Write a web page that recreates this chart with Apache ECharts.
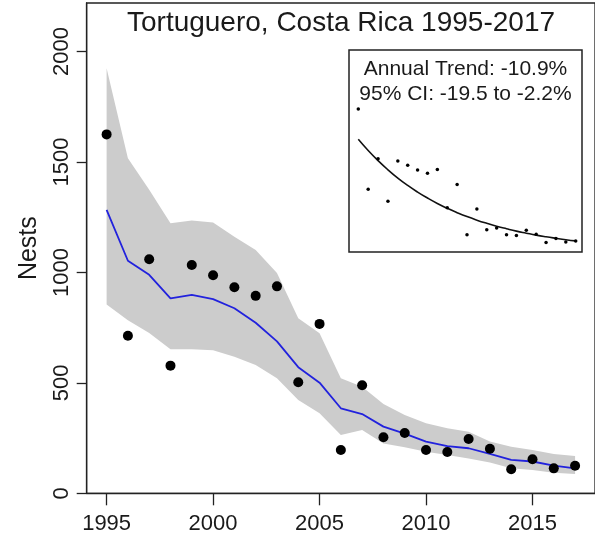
<!DOCTYPE html>
<html>
<head>
<meta charset="utf-8">
<script src="https://cdn.jsdelivr.net/npm/echarts@6/dist/echarts.min.js"></script>
<style>
  html, body { margin: 0; padding: 0; background: #fff; }
  #chart { width: 595px; height: 546px; }
</style>
</head>
<body>
<div id="chart"></div>
<script>
// ---- Data ----
const years  = [1995,1996,1997,1998,1999,2000,2001,2002,2003,2004,2005,2006,2007,2008,2009,2010,2011,2012,2013,2014,2015,2016,2017];
const nests  = [1625, 713,1060, 578,1034, 987, 933, 894, 937, 503, 767, 196, 489, 254, 273, 196, 187, 246, 202, 109, 154, 113, 125];
const median = [1283,1053, 989, 883, 898, 879, 838, 772, 688, 571, 501, 385, 359, 302, 270, 234, 214, 204, 178, 151, 144, 125, 113];
const upper  = [1925,1517,1374,1223,1235,1226,1162,1102, 997, 793, 725, 521, 483, 404, 355, 317, 294, 279, 234, 211, 196, 178, 169];
const lower  = [ 855, 784, 726, 652, 652, 648, 618, 581, 521, 423, 362, 264, 287, 226, 208, 188, 173, 158, 139, 113, 106,  93,  87];
const trend  = [1281,1153,1038, 934, 840, 756, 681, 613, 551, 496, 447, 402, 362, 326, 293, 264, 237, 214, 192, 173, 156, 140, 126];
const xTicks = [1995, 2000, 2005, 2010, 2015];
const yTicks = [0, 500, 1000, 1500, 2000];
const titleText = 'Tortuguero, Costa Rica 1995-2017';
const trendText = 'Annual Trend: -10.9%';
const ciText = '95% CI: -19.5 to -2.2%';

const FONT = '"Liberation Sans", Arial, sans-serif';
const pair = (arr) => years.map((y, i) => [y, arr[i]]);
const bandData = years.map((y, i) => [y, lower[i], upper[i]]);

const chart = echarts.init(document.getElementById('chart'), null, { renderer: 'canvas' });
chart.setOption({
  animation: false,
  backgroundColor: '#fff',
  grid: [
    { left: 86.7, top: 3, width: 510.8, height: 490.3, show: true, borderColor: '#222', borderWidth: 1.3, containLabel: false },
    { left: 358.3, top: 50, width: 217.4, height: 202, show: false }
  ],
  xAxis: [
    {
      type: 'value', gridIndex: 0, min: 1994.065, max: 2017.935,
      axisLine: { show: true, lineStyle: { color: '#222', width: 1.3 } },
      axisTick: { show: true, length: 12, customValues: xTicks, lineStyle: { color: '#222', width: 1.3 } },
      axisLabel: { customValues: xTicks, formatter: v => String(v), margin: 20, fontSize: 22, fontFamily: FONT, color: '#1a1a1a' },
      splitLine: { show: false }
    },
    { type: 'value', gridIndex: 1, min: 1995, max: 2017, show: false }
  ],
  yAxis: [
    {
      type: 'value', gridIndex: 0, min: 0, max: 2220,
      name: 'Nests', nameLocation: 'middle', nameGap: 45, nameRotate: 90,
      nameTextStyle: { fontSize: 25, fontFamily: FONT, color: '#1a1a1a' },
      axisLine: { show: true, lineStyle: { color: '#222', width: 1.3 } },
      axisTick: { show: true, length: 10, customValues: yTicks, lineStyle: { color: '#222', width: 1.3 } },
      axisLabel: { customValues: yTicks, formatter: v => String(v), rotate: 90, margin: 14, fontSize: 22, fontFamily: FONT, color: '#1a1a1a' },
      splitLine: { show: false }
    },
    { type: 'value', gridIndex: 1, min: 0, max: 2295, show: false }
  ],
  graphic: [
    { type: 'text', x: 341, y: 23, z: 100,
      style: { text: titleText, font: '28px ' + FONT, fill: '#1a1a1a', textAlign: 'center', textVerticalAlign: 'middle' } },
    { type: 'rect', z: 1, shape: { x: 349, y: 50, width: 233, height: 202 },
      style: { fill: '#fff', stroke: '#222', lineWidth: 1.5 } },
    { type: 'text', x: 465.5, y: 69, z: 100,
      style: { text: trendText, font: '21px ' + FONT, fill: '#1a1a1a', textAlign: 'center', textVerticalAlign: 'middle' } },
    { type: 'text', x: 465.5, y: 94, z: 100,
      style: { text: ciText, font: '21px ' + FONT, fill: '#1a1a1a', textAlign: 'center', textVerticalAlign: 'middle' } }
  ],
  series: [
    { type: 'custom', xAxisIndex: 0, yAxisIndex: 0, data: bandData, silent: true, z: 1,
      encode: { x: 0, y: [1, 2] },
      renderItem: function (params, api) {
        if (params.dataIndex !== 0) return null;
        const pts = [];
        for (let i = 0; i < bandData.length; i++) pts.push(api.coord([bandData[i][0], bandData[i][2]]));
        for (let i = bandData.length - 1; i >= 0; i--) pts.push(api.coord([bandData[i][0], bandData[i][1]]));
        return { type: 'polygon', shape: { points: pts }, style: { fill: '#cccccc', stroke: null } };
      }
    },
    { type: 'line', xAxisIndex: 0, yAxisIndex: 0, data: pair(median),
      symbol: 'none', lineStyle: { color: '#2222dd', width: 1.8 }, z: 3 },
    { type: 'scatter', xAxisIndex: 0, yAxisIndex: 0, data: pair(nests),
      symbolSize: 10, itemStyle: { color: '#000', opacity: 1 }, z: 4 },
    { type: 'line', xAxisIndex: 1, yAxisIndex: 1, data: pair(trend), smooth: true,
      symbol: 'none', lineStyle: { color: '#111', width: 1.6 }, z: 5 },
    { type: 'scatter', xAxisIndex: 1, yAxisIndex: 1, data: pair(nests),
      symbolSize: 3.5, itemStyle: { color: '#000', opacity: 1 }, z: 5 }
  ]
});
</script>
</body>
</html>
